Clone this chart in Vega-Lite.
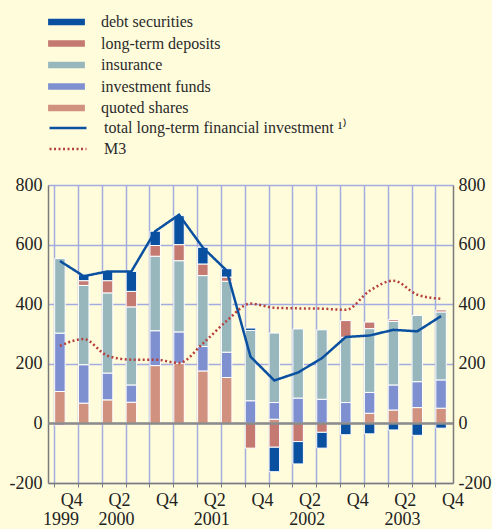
{
 "$schema": "https://vega.github.io/schema/vega-lite/v6.json",
 "width": 405,
 "height": 298,
 "autosize": {"type": "none"},
 "padding": {"left": 48, "top": 185, "right": 39, "bottom": 46},
 "background": "#fffcdc",
 "config": {
  "view": {"stroke": null},
  "axis": {"labelFont": "Liberation Serif", "labelFontSize": 18, "labelColor": "#222", "title": null, "domainColor": "#7a7a7a", "domainWidth": 1.5, "tickColor": "#7a7a7a", "gridColor": "#a3acdf", "gridWidth": 1.5},
  "legend": {"labelFont": "Liberation Serif", "labelFontSize": 16, "labelColor": "#2a2a2a", "labelLimit": 400, "padding": 0, "rowPadding": 5.5, "title": null}
 },
 "layer": [
  {
   "data": {"values": [
   {"q": "1999Q4", "cat": "quoted shares", "v": 107},
   {"q": "1999Q4", "cat": "investment funds", "v": 196},
   {"q": "1999Q4", "cat": "insurance", "v": 250},
   {"q": "1999Q4", "cat": "long-term deposits", "v": -6},
   {"q": "2000Q1", "cat": "quoted shares", "v": 68},
   {"q": "2000Q1", "cat": "investment funds", "v": 129},
   {"q": "2000Q1", "cat": "insurance", "v": 266},
   {"q": "2000Q1", "cat": "long-term deposits", "v": 16},
   {"q": "2000Q1", "cat": "debt securities", "v": 20},
   {"q": "2000Q2", "cat": "quoted shares", "v": 79},
   {"q": "2000Q2", "cat": "investment funds", "v": 90},
   {"q": "2000Q2", "cat": "insurance", "v": 269},
   {"q": "2000Q2", "cat": "long-term deposits", "v": 41},
   {"q": "2000Q2", "cat": "debt securities", "v": 31},
   {"q": "2000Q3", "cat": "quoted shares", "v": 71},
   {"q": "2000Q3", "cat": "investment funds", "v": 58},
   {"q": "2000Q3", "cat": "insurance", "v": 262},
   {"q": "2000Q3", "cat": "long-term deposits", "v": 52},
   {"q": "2000Q3", "cat": "debt securities", "v": 67},
   {"q": "2000Q4", "cat": "quoted shares", "v": 194},
   {"q": "2000Q4", "cat": "investment funds", "v": 117},
   {"q": "2000Q4", "cat": "insurance", "v": 250},
   {"q": "2000Q4", "cat": "long-term deposits", "v": 36},
   {"q": "2000Q4", "cat": "debt securities", "v": 48},
   {"q": "2001Q1", "cat": "quoted shares", "v": 202},
   {"q": "2001Q1", "cat": "investment funds", "v": 105},
   {"q": "2001Q1", "cat": "insurance", "v": 239},
   {"q": "2001Q1", "cat": "long-term deposits", "v": 54},
   {"q": "2001Q1", "cat": "debt securities", "v": 97},
   {"q": "2001Q2", "cat": "quoted shares", "v": 176},
   {"q": "2001Q2", "cat": "investment funds", "v": 82},
   {"q": "2001Q2", "cat": "insurance", "v": 238},
   {"q": "2001Q2", "cat": "long-term deposits", "v": 39},
   {"q": "2001Q2", "cat": "debt securities", "v": 56},
   {"q": "2001Q3", "cat": "quoted shares", "v": 154},
   {"q": "2001Q3", "cat": "investment funds", "v": 85},
   {"q": "2001Q3", "cat": "insurance", "v": 238},
   {"q": "2001Q3", "cat": "long-term deposits", "v": 14},
   {"q": "2001Q3", "cat": "debt securities", "v": 28},
   {"q": "2001Q4", "cat": "investment funds", "v": 76},
   {"q": "2001Q4", "cat": "insurance", "v": 236},
   {"q": "2001Q4", "cat": "long-term deposits", "v": -83},
   {"q": "2001Q4", "cat": "debt securities", "v": 8},
   {"q": "2002Q1", "cat": "quoted shares", "v": 14},
   {"q": "2002Q1", "cat": "investment funds", "v": 56},
   {"q": "2002Q1", "cat": "insurance", "v": 233},
   {"q": "2002Q1", "cat": "long-term deposits", "v": -80},
   {"q": "2002Q1", "cat": "debt securities", "v": -82},
   {"q": "2002Q2", "cat": "investment funds", "v": 85},
   {"q": "2002Q2", "cat": "insurance", "v": 232},
   {"q": "2002Q2", "cat": "long-term deposits", "v": -61},
   {"q": "2002Q2", "cat": "debt securities", "v": -75},
   {"q": "2002Q3", "cat": "investment funds", "v": 81},
   {"q": "2002Q3", "cat": "insurance", "v": 233},
   {"q": "2002Q3", "cat": "long-term deposits", "v": -30},
   {"q": "2002Q3", "cat": "debt securities", "v": -53},
   {"q": "2002Q4", "cat": "investment funds", "v": 70},
   {"q": "2002Q4", "cat": "insurance", "v": 219},
   {"q": "2002Q4", "cat": "long-term deposits", "v": 56},
   {"q": "2002Q4", "cat": "debt securities", "v": -38},
   {"q": "2003Q1", "cat": "quoted shares", "v": 34},
   {"q": "2003Q1", "cat": "investment funds", "v": 70},
   {"q": "2003Q1", "cat": "insurance", "v": 214},
   {"q": "2003Q1", "cat": "long-term deposits", "v": 22},
   {"q": "2003Q1", "cat": "debt securities", "v": -35},
   {"q": "2003Q2", "cat": "quoted shares", "v": 45},
   {"q": "2003Q2", "cat": "investment funds", "v": 84},
   {"q": "2003Q2", "cat": "insurance", "v": 213},
   {"q": "2003Q2", "cat": "long-term deposits", "v": 6},
   {"q": "2003Q2", "cat": "debt securities", "v": -22},
   {"q": "2003Q3", "cat": "quoted shares", "v": 53},
   {"q": "2003Q3", "cat": "investment funds", "v": 87},
   {"q": "2003Q3", "cat": "insurance", "v": 222},
   {"q": "2003Q3", "cat": "debt securities", "v": -40},
   {"q": "2003Q4", "cat": "quoted shares", "v": 51},
   {"q": "2003Q4", "cat": "investment funds", "v": 95},
   {"q": "2003Q4", "cat": "insurance", "v": 228},
   {"q": "2003Q4", "cat": "long-term deposits", "v": 7},
   {"q": "2003Q4", "cat": "debt securities", "v": -16}
   ]},
   "transform": [{"calculate": "datum.cat == 'quoted shares' ? 0 : datum.cat == 'investment funds' ? 1 : datum.cat == 'insurance' ? 2 : datum.cat == 'long-term deposits' ? 3 : 4", "as": "ord"}],
   "mark": {"type": "bar", "stroke": "#ffffff", "strokeWidth": 1},
   "encoding": {
    "x": {"field": "q", "type": "ordinal",
     "scale": {"domain": ["1999Q4","2000Q1","2000Q2","2000Q3","2000Q4","2001Q1","2001Q2","2001Q3","2001Q4","2002Q1","2002Q2","2002Q3","2002Q4","2003Q1","2003Q2","2003Q3","2003Q4"], "paddingInner": 0.56, "paddingOuter": 0.28},
     "axis": {"labelAngle": 0, "grid": true, "bandPosition": 0, "labelOffset": 11.9, "tickSize": 4, "labelPadding": 4,
      "labelExpr": "(substring(datum.value, 4) == 'Q4' || substring(datum.value, 4) == 'Q2') ? substring(datum.value, 4) : ''"}},
    "y": {"field": "v", "type": "quantitative", "stack": "zero",
     "scale": {"domain": [-200, 800], "nice": false},
     "axis": {"orient": "left", "values": [-200, 0, 200, 400, 600, 800], "grid": true, "tickSize": 0, "labelPadding": 6, "labelExpr": "'' + datum.value"}},
    "color": {"field": "cat", "type": "nominal",
     "scale": {"domain": ["debt securities", "long-term deposits", "insurance", "investment funds", "quoted shares"],
      "range": ["#0a50a0", "#c47a70", "#98b7bc", "#7f90d0", "#d0917f"]},
     "legend": {"orient": "none", "legendX": 10.5, "legendY": -171, "symbolType": "M-2.3,-0.42H2.3V0.42H-2.3Z", "symbolSize": 256, "symbolStrokeWidth": 0, "labelOffset": 26.5}},
    "order": {"field": "ord", "type": "quantitative"}
   }
  },
  {
   "data": {"values": [
   {"q": "1999Q4", "s": "total long-term financial investment ¹⁾", "v": 545},
   {"q": "2000Q1", "s": "total long-term financial investment ¹⁾", "v": 494},
   {"q": "2000Q2", "s": "total long-term financial investment ¹⁾", "v": 510},
   {"q": "2000Q3", "s": "total long-term financial investment ¹⁾", "v": 510},
   {"q": "2000Q4", "s": "total long-term financial investment ¹⁾", "v": 645},
   {"q": "2001Q1", "s": "total long-term financial investment ¹⁾", "v": 700},
   {"q": "2001Q2", "s": "total long-term financial investment ¹⁾", "v": 590},
   {"q": "2001Q3", "s": "total long-term financial investment ¹⁾", "v": 513},
   {"q": "2001Q4", "s": "total long-term financial investment ¹⁾", "v": 224},
   {"q": "2002Q1", "s": "total long-term financial investment ¹⁾", "v": 144},
   {"q": "2002Q2", "s": "total long-term financial investment ¹⁾", "v": 171},
   {"q": "2002Q3", "s": "total long-term financial investment ¹⁾", "v": 219},
   {"q": "2002Q4", "s": "total long-term financial investment ¹⁾", "v": 290},
   {"q": "2003Q1", "s": "total long-term financial investment ¹⁾", "v": 295},
   {"q": "2003Q2", "s": "total long-term financial investment ¹⁾", "v": 314},
   {"q": "2003Q3", "s": "total long-term financial investment ¹⁾", "v": 309},
   {"q": "2003Q4", "s": "total long-term financial investment ¹⁾", "v": 360}
   ]},
   "mark": {"type": "line", "strokeWidth": 2.5},
   "encoding": {
    "x": {"field": "q", "type": "ordinal"},
    "y": {"field": "v", "type": "quantitative",
     "axis": {"orient": "right", "values": [-200, 0, 200, 400, 600, 800], "grid": false, "tickSize": 0, "labelPadding": 5, "labelExpr": "'' + datum.value"}},
    "stroke": {"field": "s", "type": "nominal",
     "scale": {"domain": ["total long-term financial investment ¹⁾", "M3"], "range": ["#0a50a0", "#b5403a"]},
     "legend": {"orient": "none", "legendX": 11.5, "legendY": -65.5, "symbolType": "M-2.64,0H2.64", "symbolSize": 196, "symbolStrokeWidth": 2.5, "labelOffset": 27.5, "rowPadding": 4}},
    "strokeDash": {"field": "s", "type": "nominal",
     "scale": {"domain": ["total long-term financial investment ¹⁾", "M3"], "range": [[1, 0], [2, 2.5]]},
     "legend": {"orient": "none", "legendX": 11.5, "legendY": -65.5, "symbolType": "M-2.64,0H2.64", "symbolSize": 196, "symbolStrokeWidth": 2.5, "labelOffset": 27.5, "rowPadding": 4}}
   }
  },
  {
   "data": {"values": [
   {"q": "1999Q4", "s": "M3", "v": 260},
   {"q": "2000Q1", "s": "M3", "v": 283},
   {"q": "2000Q2", "s": "M3", "v": 227},
   {"q": "2000Q3", "s": "M3", "v": 214},
   {"q": "2000Q4", "s": "M3", "v": 214},
   {"q": "2001Q1", "s": "M3", "v": 203},
   {"q": "2001Q2", "s": "M3", "v": 268},
   {"q": "2001Q3", "s": "M3", "v": 344},
   {"q": "2001Q4", "s": "M3", "v": 402},
   {"q": "2002Q1", "s": "M3", "v": 388},
   {"q": "2002Q2", "s": "M3", "v": 386},
   {"q": "2002Q3", "s": "M3", "v": 385},
   {"q": "2002Q4", "s": "M3", "v": 381},
   {"q": "2003Q1", "s": "M3", "v": 445},
   {"q": "2003Q2", "s": "M3", "v": 479},
   {"q": "2003Q3", "s": "M3", "v": 432},
   {"q": "2003Q4", "s": "M3", "v": 418}
   ]},
   "mark": {"type": "line", "strokeWidth": 2.5, "interpolate": "monotone"},
   "encoding": {
    "x": {"field": "q", "type": "ordinal"},
    "y": {"field": "v", "type": "quantitative", "axis": null},
    "stroke": {"field": "s", "type": "nominal"},
    "strokeDash": {"field": "s", "type": "nominal"}
   }
  },
  {
   "data": {"values": [{"z": 0}]},
   "mark": {"type": "rule", "color": "#8c8c8c", "strokeWidth": 2.5},
   "encoding": {"y": {"field": "z", "type": "quantitative", "axis": null}}
  },
  {
   "data": {"values": [{"q": "1999Q4", "year": "1999"}]},
   "mark": {"type": "text", "baseline": "top", "dy": 28, "dx": 1, "fontSize": 18, "font": "Liberation Serif", "color": "#222"},
   "encoding": {
    "x": {"field": "q", "type": "ordinal"},
    "y": {"datum": -200, "type": "quantitative", "axis": null},
    "text": {"field": "year"}
   }
  },
  {
   "data": {"values": [
    {"q": "2000Q2", "year": "2000"},
    {"q": "2001Q2", "year": "2001"},
    {"q": "2002Q2", "year": "2002"},
    {"q": "2003Q2", "year": "2003"}
   ]},
   "mark": {"type": "text", "baseline": "top", "dy": 28, "dx": 9, "fontSize": 18, "font": "Liberation Serif", "color": "#222"},
   "encoding": {
    "x": {"field": "q", "type": "ordinal"},
    "y": {"datum": -200, "type": "quantitative", "axis": null},
    "text": {"field": "year"}
   }
  }
 ],
 "resolve": {"axis": {"y": "independent"}}
}
